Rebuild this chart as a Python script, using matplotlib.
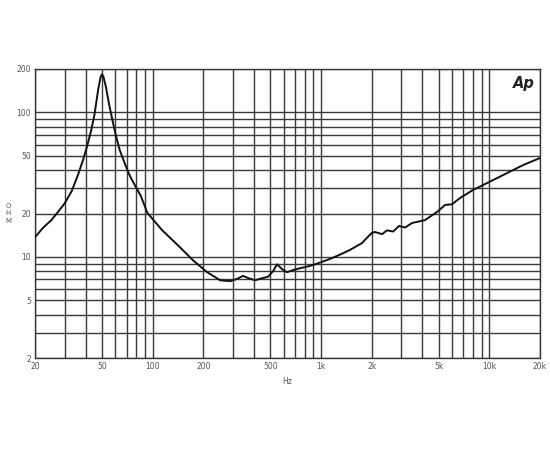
"""Impedance curve - woofer, AP style log-log chart."""

import matplotlib
matplotlib.use("Agg")
import matplotlib.pyplot as plt
from matplotlib.ticker import FixedLocator, NullFormatter

# impedance magnitude (Hz, ohm)
freq = [20, 22.3, 25, 27.4, 30, 33, 36, 38.6, 40.7, 43, 45, 47.5, 49, 50,
        51, 52.8, 55, 57.5, 60, 63.7, 68, 72, 75.5, 85, 93, 114, 145, 173,
        210, 252, 289, 317, 344, 375, 406, 440, 485, 520, 548, 590, 628,
        700, 800, 897, 1000, 1132, 1300, 1488, 1754, 1900, 2010, 2090,
        2306, 2470, 2680, 2910, 3160, 3480, 4150, 4890, 5460, 6010, 6700,
        8000, 9700, 12750, 15900, 20000]
ohm = [13.7, 15.9, 18.0, 20.5, 23.5, 28.5, 37.0, 47.0, 58.0, 74.0, 95.0,
       145, 175, 184, 177, 150, 115, 90.0, 72.0, 55.0, 45.0, 38.0, 34.0,
       26.5, 20.2, 15.3, 11.7, 9.53, 7.87, 6.9, 6.8, 7.05, 7.4, 7.1, 6.9,
       7.1, 7.3, 8.0, 8.9, 8.2, 7.85, 8.2, 8.5, 8.8, 9.2, 9.7, 10.4, 11.2,
       12.5, 13.8, 14.7, 14.9, 14.4, 15.3, 15.0, 16.4, 16.0, 17.2, 18.0,
       20.5, 22.9, 23.2, 25.6, 29.1, 32.5, 38.1, 43.3, 48.4]

x_ticks = [20, 50, 100, 200, 500, 1000, 2000, 5000, 10000, 20000]
x_labels = ["20", "50", "100", "200", "500", "1k", "2k", "5k", "10k", "20k"]
y_ticks = [2, 5, 10, 20, 50, 100, 200]
y_labels = ["2", "5", "10", "20", "50", "100", "200"]

GRID = "#3a3a3a"
LABEL = "#555555"

fig = plt.figure(figsize=(5.5, 4.5), dpi=100)
ax = fig.add_axes([35 / 550, 1 - 358 / 450, 505 / 550, 289 / 450])

ax.set_xscale("log")
ax.set_yscale("log")
ax.set_xlim(20, 20000)
ax.set_ylim(2, 200)

# grid at every 1..9 step of each decade
x_grid = [m * 10 ** e for e in range(1, 5) for m in range(1, 10)]
x_grid = [v for v in x_grid if 20 <= v <= 20000]
y_grid = [m * 10 ** e for e in range(0, 3) for m in range(1, 10)]
y_grid = [v for v in y_grid if 2 <= v <= 200]
for v in x_grid:
    ax.axvline(v, color=GRID, lw=1.0, zorder=1)
for v in y_grid:
    ax.axhline(v, color=GRID, lw=1.0, zorder=1)

ax.plot(freq, ohm, color="#111111", lw=1.4, zorder=3,
        solid_joinstyle="round")

ax.xaxis.set_major_locator(FixedLocator(x_ticks))
ax.xaxis.set_minor_formatter(NullFormatter())
ax.set_xticks(x_ticks)
ax.set_xticklabels(x_labels)
ax.yaxis.set_major_locator(FixedLocator(y_ticks))
ax.yaxis.set_minor_formatter(NullFormatter())
ax.set_yticks(y_ticks)
ax.set_yticklabels(y_labels)
ax.tick_params(which="both", length=0, labelsize=5.5, labelcolor=LABEL, pad=3)

for s in ax.spines.values():
    s.set_color(GRID)
    s.set_linewidth(1.0)

ax.set_xlabel("Hz", fontsize=5.5, color=LABEL, labelpad=4)
fig.text(8 / 550, 1 - 213 / 450, "O\nH\nM", fontsize=5, color=LABEL,
         ha="center", va="center", linespacing=1.3)
ax.text(0.99, 0.975, "Ap", transform=ax.transAxes, fontsize=10.5,
        fontweight="bold", fontstyle="italic", ha="right", va="top",
        color="#222222", zorder=4)

fig.savefig("out.png", dpi=100)
plt.close(fig)
